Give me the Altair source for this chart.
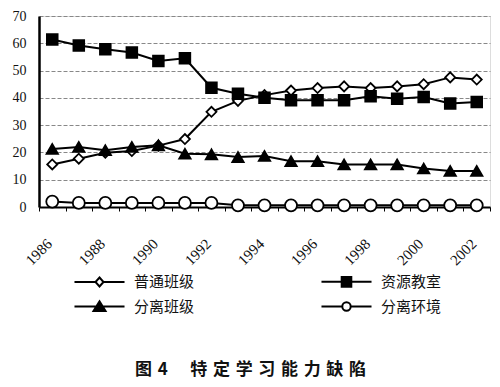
import altair as alt
import pandas as pd

years = list(range(1986, 2003))
tick_years = list(range(1986, 2004))
series_names = ["普通班级", "资源教室", "分离班级", "分离环境"]
regular = [15.6, 17.7, 19.9, 20.5, 22.5, 24.9, 34.9, 38.9, 41.0, 42.7, 43.6, 44.2, 43.6, 44.2, 45.0, 47.5, 46.7]
resource = [61.4, 59.2, 57.8, 56.6, 53.5, 54.5, 43.7, 41.5, 40.0, 39.1, 39.1, 39.1, 40.6, 39.7, 40.3, 37.9, 38.5]
separate_class = [21.3, 22.0, 20.8, 22.0, 22.6, 19.5, 19.3, 18.3, 18.7, 16.8, 16.8, 15.6, 15.6, 15.6, 14.1, 13.2, 13.2]
separate_env = [2.0, 1.5, 1.5, 1.5, 1.5, 1.5, 1.5, 0.6, 0.6, 0.6, 0.6, 0.6, 0.6, 0.6, 0.6, 0.6, 0.6]
title_text = "图\u20044\u3000\u2004特\u2004定\u2004学\u2004习\u2004能\u2004力\u2004缺\u2004陷"

values = [regular, resource, separate_class, separate_env]
rows = []
for name, vals in zip(series_names, values):
    for y, v in zip(years, vals):
        rows.append({"year": y, "series": name, "value": v})
df = pd.DataFrame(rows)

point_shapes = ["diamond", "square", "triangle-up", "circle"]
point_fills = ["white", "black", "black", "white"]
point_strokes = ["black", "black", "black", "black"]
point_sizes = [100, 144, 150, 80]

legend_shapes = [
    "M-4.17,0L-0.67,0M0.67,0L4.17,0M0,-0.75L0.67,0L0,0.75L-0.67,0Z",
    "M-4.17,0L4.17,0M-0.8,-0.8L0.8,-0.8L0.8,0.8L-0.8,0.8Z",
    "M-4.17,0L4.17,0M0,-0.85L1,0.75L-1,0.75Z",
    "M-4.17,0L-0.7,0M0.7,0L4.17,0M0.7,0A0.7,0.7,0,1,1,-0.7,0A0.7,0.7,0,1,1,0.7,0Z",
]

base = alt.Chart(df).transform_calculate(xpos="datum.year + 0.5")

x_enc = alt.X(
    "xpos:Q",
    scale=alt.Scale(domain=[1986, 2003], nice=False, zero=False),
    axis=alt.Axis(
        title=None,
        values=tick_years,
        labelExpr="datum.value % 2 == 0 && datum.value < 2003 ? datum.label : ''",
        format="d",
        labelAngle=315,
        labelAlign="right",
        labelBaseline="top",
        labelFont="Liberation Serif",
        labelFontSize=15,
        labelColor="#111",
        labelPadding=25,
        labelOffset=5,
        tickSize=4,
        tickColor="black",
        domainColor="black",
        domainWidth=2,
        grid=False,
    ),
)
y_enc = alt.Y(
    "value:Q",
    scale=alt.Scale(domain=[0, 70], nice=False),
    axis=alt.Axis(
        title=None,
        values=[0, 10, 20, 30, 40, 50, 60, 70],
        labelFont="Liberation Serif",
        labelFontSize=14,
        labelColor="#111",
        labelPadding=13,
        tickSize=0,
        domainColor="black",
        domainWidth=2.5,
        gridColor="#888",
        gridWidth=1,
        gridDash=[4, 2],
    ),
)

lines = base.mark_line(color="black", strokeWidth=2).encode(
    x=x_enc, y=y_enc, detail="series:N"
)

points = base.mark_point(filled=True, stroke="black", strokeWidth=1.8, opacity=1).encode(
    x=x_enc,
    y=y_enc,
    shape=alt.Shape("series:N", scale=alt.Scale(domain=series_names, range=point_shapes), legend=None),
    fill=alt.Fill("series:N", scale=alt.Scale(domain=series_names, range=point_fills), legend=None),
    size=alt.Size("series:N", scale=alt.Scale(domain=series_names, range=point_sizes), legend=None),
)

leg = alt.Legend(
    title=None,
    orient="none",
    legendX=53,
    legendY=258,
    columns=2,
    direction="horizontal",
    symbolSize=144,
    symbolStrokeColor="black",
    symbolStrokeWidth=2,
    labelFont="Noto Sans CJK SC",
    labelFontSize=15,
    labelColor="#111",
    labelOffset=27,
    columnPadding=122,
    rowPadding=6,
)

legend_layer = base.transform_filter("false").mark_point(
    filled=True, strokeWidth=2, opacity=1
).encode(
    x=x_enc,
    y=y_enc,
    shape=alt.Shape("series:N", scale=alt.Scale(domain=series_names, range=legend_shapes), legend=leg),
    fill=alt.Fill("series:N", scale=alt.Scale(domain=series_names, range=point_fills), legend=leg),
    stroke=alt.Stroke("series:N", scale=alt.Scale(domain=series_names, range=point_strokes), legend=leg),
)

chart = (
    alt.layer(lines, points, legend_layer)
    .resolve_scale(shape="independent", fill="independent", stroke="independent")
    .properties(
        width=451,
        height=191,
        autosize=alt.AutoSizeParams(type="none"),
        padding={"left": 31, "top": 8, "right": 2, "bottom": 172},
        title=alt.TitleParams(
            title_text,
            orient="bottom",
            anchor="middle",
            font="Noto Sans CJK SC",
            fontSize=17,
            fontWeight="bold",
            color="#111",
            offset=47,
            dx=-14,
        ),
    )
    .configure_view(stroke="black", strokeWidth=1.5)
    .configure(background="white")
)

chart.save("out.html", embed_options={"renderer": "svg", "actions": False})
